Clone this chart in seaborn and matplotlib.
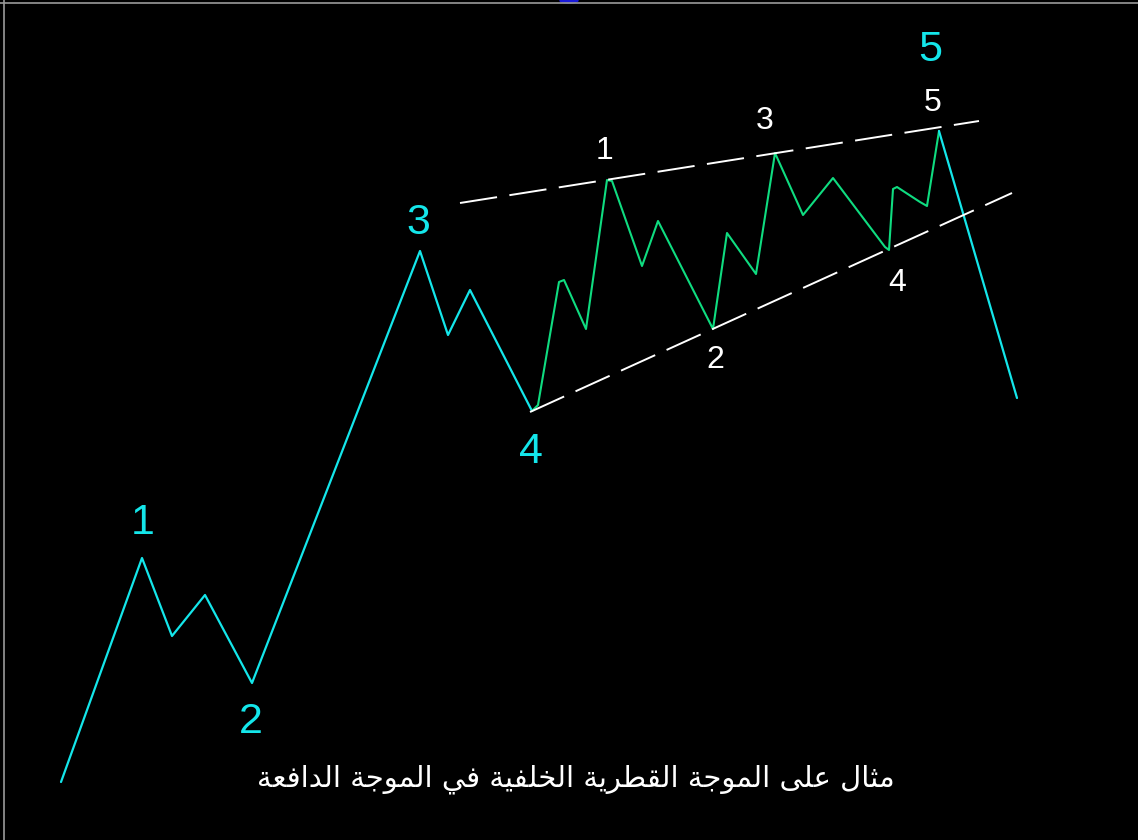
import numpy as np
import pandas as pd
import matplotlib
matplotlib.use("Agg")
import matplotlib.pyplot as plt
from matplotlib.patches import Ellipse
import seaborn as sb

# main impulse wave (cyan), picture units
wave_x = [61, 142, 172, 205, 252, 420, 448, 470, 532]
wave_y = [782, 558, 636, 595, 683, 251, 335, 290, 411]

# diagonal triangle inside wave 5 (green)
diag_x = [532, 538, 559, 564, 586, 607, 612, 642, 658, 713, 727, 756,
          775, 803, 833, 885, 889, 893, 897, 920, 927, 939]
diag_y = [411, 405, 282, 280, 329, 180, 181, 266, 221, 329, 233, 274,
          153, 215, 178, 247, 250, 189, 187, 202, 206, 131]

# drop after the end of wave 5
drop_x = [939, 1017]
drop_y = [131, 398]

# trend lines of the wedge
upper_x = [460, 979]
upper_y = [203, 121]
lower_x = [530, 1012]
lower_y = [412, 193]

big_labels = ['1', '2', '3', '4', '5']
big_x = [143, 251, 418, 531, 930]
big_y = [523, 722, 223, 452, 50]

small_labels = ['1', '2', '3', '4', '5']
small_x = [605, 715, 765, 897, 933]
small_y = [151, 360, 121, 283, 103]

caption = 'مثال على الموجة القطرية الخلفية في الموجة الدافعة'

# arabic letters -> (isolated, final, initial, medial)
forms = {
    'ا': ('\uFE8D', '\uFE8E'), 'د': ('\uFEA9', '\uFEAA'),
    'ر': ('\uFEAD', '\uFEAE'), 'و': ('\uFEED', '\uFEEE'),
    'ة': ('\uFE93', '\uFE94'), 'ى': ('\uFEEF', '\uFEF0'),
    'م': ('\uFEE1', '\uFEE2', '\uFEE3', '\uFEE4'),
    'ث': ('\uFE99', '\uFE9A', '\uFE9B', '\uFE9C'),
    'ل': ('\uFEDD', '\uFEDE', '\uFEDF', '\uFEE0'),
    'ع': ('\uFEC9', '\uFECA', '\uFECB', '\uFECC'),
    'ج': ('\uFE9D', '\uFE9E', '\uFE9F', '\uFEA0'),
    'ق': ('\uFED5', '\uFED6', '\uFED7', '\uFED8'),
    'ط': ('\uFEC1', '\uFEC2', '\uFEC3', '\uFEC4'),
    'ي': ('\uFEF1', '\uFEF2', '\uFEF3', '\uFEF4'),
    'خ': ('\uFEA5', '\uFEA6', '\uFEA7', '\uFEA8'),
    'ف': ('\uFED1', '\uFED2', '\uFED3', '\uFED4'),
}

def shape_arabic(s):
    # pick contextual forms, then reverse for left-to-right drawing
    out = []
    for i, ch in enumerate(s):
        if ch not in forms:
            out.append(ch)
            continue
        prev = s[i - 1] if i > 0 else ' '
        nxt = s[i + 1] if i < len(s) - 1 else ' '
        join_prev = prev in forms and len(forms[prev]) == 4
        join_next = nxt in forms and len(forms[ch]) == 4
        f = forms[ch]
        if join_prev and join_next:
            out.append(f[3])
        elif join_prev:
            out.append(f[1])
        elif join_next:
            out.append(f[2])
        else:
            out.append(f[0])
    return ''.join(out)[::-1]

sb.set_theme(style='white')
plt.rcParams['font.family'] = ['Liberation Sans', 'DejaVu Sans']
plt.rcParams['lines.scale_dashes'] = False

fig = plt.figure(figsize=(11.38, 8.40), dpi=100)
ax = fig.add_axes([0, 0, 1, 1])
ax.set_facecolor('black')
fig.patch.set_facecolor('black')

cyan = '#14e6ea'
green = '#0fdc80'

sb.lineplot(x=wave_x, y=wave_y, sort=False, estimator=None, color=cyan, lw=1.6, ax=ax)
sb.lineplot(x=diag_x, y=diag_y, sort=False, estimator=None, color=green, lw=1.5, ax=ax)
sb.lineplot(x=drop_x, y=drop_y, sort=False, estimator=None, color=cyan, lw=1.6, ax=ax)
for lx, ly in [(upper_x, upper_y), (lower_x, lower_y)]:
    sb.lineplot(x=lx, y=ly, sort=False, estimator=None, color='white', lw=1.4,
                linestyle=(0, (27, 9)), ax=ax)

for t, x, y in zip(big_labels, big_x, big_y):
    ax.text(x, y, t, color=cyan, fontsize=31, ha='center', va='center')
for t, x, y in zip(small_labels, small_x, small_y):
    ax.text(x, y, t, color='white', fontsize=23, ha='center', va='center')

ax.text(576, 779, shape_arabic(caption), color='white', fontsize=21,
        ha='center', va='center', family=['DejaVu Sans'])

# frame bits of the screenshot
ax.axhline(3, color='#9a9a9a', lw=1.2)
ax.axvline(4, color='#9a9a9a', lw=1.2)
ax.add_patch(Ellipse((569, 0.5), 18, 5, color='#1a1ad8'))

ax.set_xlim(0, 1138)
ax.set_ylim(840, 0)
ax.axis('off')
if ax.get_legend():
    ax.get_legend().remove()

plt.savefig('out.png', dpi=100, facecolor='black')
